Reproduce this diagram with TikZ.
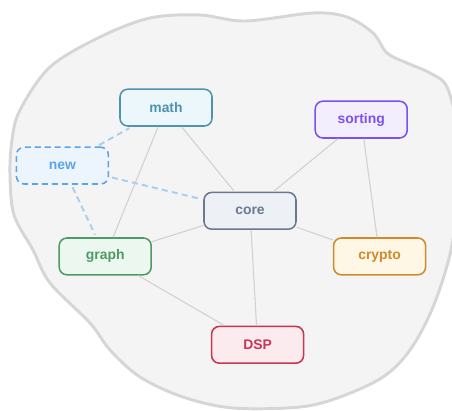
\documentclass[tikz,border=0pt]{standalone}
\usepackage{fontspec}
\setmainfont{Liberation Sans}
\usepackage{xcolor}
\usepackage{tikz}
\usetikzlibrary{positioning, arrows.meta, calc}
\definecolor{blobFill}{HTML}{F4F4F4}
\definecolor{blobLine}{HTML}{D6D6D6}
\definecolor{linkGray}{HTML}{D2D2D2}
\definecolor{mathInk}{HTML}{4F93B0}
\definecolor{mathBg}{HTML}{EBF7FB}
\definecolor{sortInk}{HTML}{7B4FF0}
\definecolor{sortBg}{HTML}{F3EEFE}
\definecolor{newInk}{HTML}{5BA4E6}
\definecolor{newBg}{HTML}{ECF4FD}
\definecolor{newLink}{HTML}{A8CFEF}
\definecolor{coreInk}{HTML}{6B7890}
\definecolor{coreBg}{HTML}{EDF0F5}
\definecolor{graphInk}{HTML}{4E9A63}
\definecolor{graphBg}{HTML}{ECF7EF}
\definecolor{cryptoInk}{HTML}{D08A2A}
\definecolor{cryptoBg}{HTML}{FEF7E6}
\definecolor{dspInk}{HTML}{C73653}
\definecolor{dspBg}{HTML}{FBEBEE}

\begin{document}
\begin{tikzpicture}[
    mod/.style={rectangle, rounded corners=5.5pt, line width=1.1pt,
                minimum width=2.3cm, minimum height=0.92cm,
                font=\fontsize{9.9}{11}\selectfont\bfseries},
    mathmod/.style={mod, draw=mathInk, fill=mathBg, text=mathInk},
    sortmod/.style={mod, draw=sortInk, fill=sortBg, text=sortInk},
    newmod/.style={mod, draw=newInk, fill=newBg, text=newInk, dash pattern=on 4.3pt off 2.8pt},
    coremod/.style={mod, draw=coreInk, fill=coreBg, text=coreInk},
    graphmod/.style={mod, draw=graphInk, fill=graphBg, text=graphInk},
    cryptomod/.style={mod, draw=cryptoInk, fill=cryptoBg, text=cryptoInk},
    dspmod/.style={mod, draw=dspInk, fill=dspBg, text=dspInk},
    link/.style={linkGray, line width=0.8pt},
    newlink/.style={newLink, line width=1.4pt, dash pattern=on 4.3pt off 3pt, shorten <=2pt, shorten >=2pt},
]
\useasboundingbox (0,0) rectangle (11.3,10.25);

% ---- Boundary blob ----
\begin{scope}
\clip (0,0) rectangle (11.3,10.25);
\draw[blobLine, fill=blobFill, line width=2.1pt]
  plot[smooth cycle, tension=0.55] coordinates {
    (0.3,6.75) (0.5,7.5) (1.25,8.575) (2.5,9.325) (3.75,9.8) (5,9.875)
    (6.125,9.725) (7.825,9.925) (8.675,9.825) (9.325,9.425) (9.675,8.925)
    (10.175,8.675) (10.75,8.425) (11.175,8.075) (11.425,7) (11.45,5.5)
    (11.275,4) (10.825,2.575) (10.25,1.5) (9.575,0.825) (8.5,0.325)
    (7.5,0.075) (5.825,0.05) (4.575,0.325) (3.5,0.825) (2.75,1.5)
    (2.25,2.175) (1.25,3.175) (0.825,4) (0.35,4.875) (0.25,5.875)};
\end{scope}

% ---- Modules ----
\node[mathmod]   (math)    at (4.15, 7.56) {math};
\node[sortmod]   (sorting) at (9.03, 7.26) {sorting};
\node[newmod]    (new)     at (1.56, 6.11) {new};
\node[coremod]   (core)    at (6.25, 4.98) {core};
\node[graphmod]  (graph)   at (2.63, 3.84) {graph};
\node[cryptomod] (crypto)  at (9.49, 3.84) {crypto};
\node[dspmod]    (dsp)     at (6.44, 1.63) {DSP};

% Dependencies
\draw[link] (math) -- (core);
\draw[link] (math) -- (graph);
\draw[link] (sorting) -- (core);
\draw[link] (sorting) -- (crypto);
\draw[link] (core) -- (graph);
\draw[link] (core) -- (crypto);
\draw[link] (core) -- (dsp);
\draw[link] (graph) -- (dsp);

% New module (proposed)
\draw[newlink] (new) -- (math);
\draw[newlink] (new) -- (core);
\draw[newlink] (new) -- (graph);

\end{tikzpicture}
\end{document}
